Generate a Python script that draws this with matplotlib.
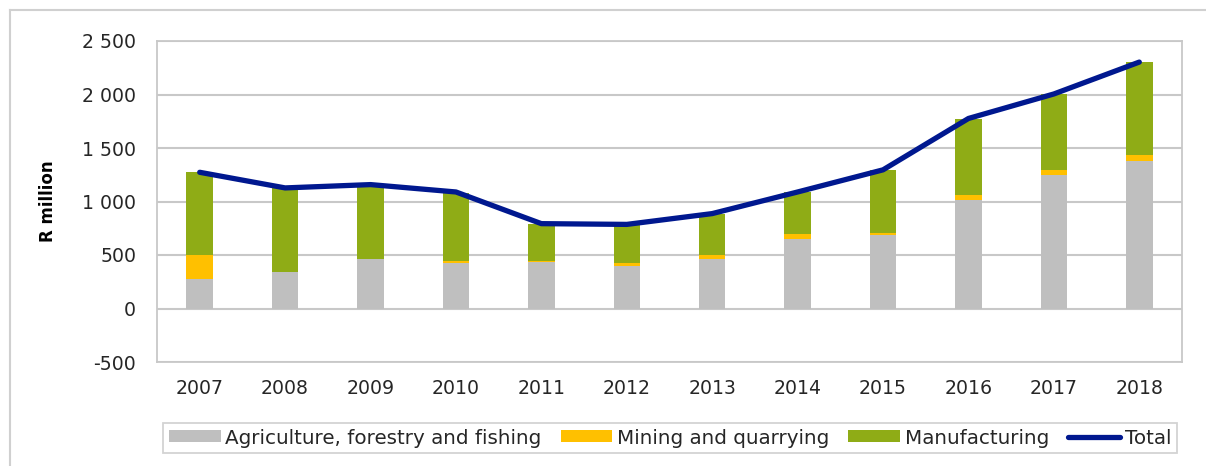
import matplotlib
matplotlib.use("Agg")
import matplotlib.pyplot as plt
from matplotlib.ticker import FuncFormatter, MultipleLocator
from matplotlib.lines import Line2D
import numpy as np

years = ["2007", "2008", "2009", "2010", "2011", "2012",
         "2013", "2014", "2015", "2016", "2017", "2018"]
agriculture = [278, 340, 459, 428, 434, 400, 465, 649, 687, 1014, 1245, 1379]
mining = [224, 0, 0, 15, 6, 21, 38, 44, 22, 44, 47, 51]
manufacturing = [771, 787, 699, 640, 353, 365, 384, 396, 583, 712, 713, 873]
total = [1273, 1127, 1158, 1089, 793, 786, 887, 1089, 1296, 1776, 2005, 2303]

series_labels = ["Agriculture, forestry and fishing", "Mining and quarrying",
                 "Manufacturing", "Total"]
colors = ["#bfbfbf", "#ffc000", "#8fac16", "#00188f"]

plt.rcParams['font.family'] = ['DejaVu Sans']

W, H = 1206, 466
fig = plt.figure(figsize=(W / 100, H / 100), dpi=100)
ax = fig.add_axes([157 / W, 1 - 362 / H, (1182 - 157) / W, (362 - 41) / H])

x = np.arange(len(years))
bw = 0.31
agri = np.array(agriculture)
mine = np.array(mining)
manu = np.array(manufacturing)
b1 = ax.bar(x, agri, bw, color=colors[0], label=series_labels[0], zorder=2)
b2 = ax.bar(x, mine, bw, bottom=agri, color=colors[1], label=series_labels[1], zorder=2)
b3 = ax.bar(x, manu, bw, bottom=agri + mine, color=colors[2], label=series_labels[2], zorder=2)
ln, = ax.plot(x, total, color=colors[3], lw=3.8, solid_capstyle='round',
              solid_joinstyle='round', label=series_labels[3], zorder=3)

ax.set_xlim(-0.5, len(years) - 0.5)
ax.set_ylim(-500, 2500)
ax.yaxis.set_major_locator(MultipleLocator(500))
ax.yaxis.set_major_formatter(FuncFormatter(lambda v, p: f"{int(v):,}".replace(",", " ")))
ax.set_xticks(x)
ax.set_xticklabels(years)
ax.tick_params(axis='both', length=0, labelsize=13.6, colors='#262626')
ax.tick_params(axis='y', pad=15)
ax.tick_params(axis='x', pad=12)
ax.grid(axis='y', color='#c8c8c8', lw=1.5, zorder=0)
ax.axhline(0, color='#a6a6a6', lw=1.2, zorder=1)
for s in ax.spines.values():
    s.set_color('#c8c8c8')
    s.set_linewidth(1.3)

ax.set_ylabel("R million", fontsize=12, fontweight='bold')
ax.yaxis.set_label_coords((57 - 157) / 1025, 0.5)

leg = fig.legend(handles=[b1, b2, b3, ln], labels=series_labels, ncol=4,
                 loc='center', bbox_to_anchor=(670 / W, 1 - 438 / H),
                 fontsize=14.3, frameon=True, fancybox=False, edgecolor='#c8c8c8',
                 handlelength=2.6, handleheight=0.55, handletextpad=0.25,
                 columnspacing=0.95, borderpad=0.3)
leg.get_frame().set_linewidth(1.3)
for t in leg.get_texts():
    t.set_color('#262626')

# outer chart frame
fig.add_artist(Line2D([10 / W, 10 / W], [0, 1 - 10 / H], transform=fig.transFigure,
                      color='#d0d0d0', lw=1.5))
fig.add_artist(Line2D([10 / W, 1], [1 - 10 / H, 1 - 10 / H], transform=fig.transFigure,
                      color='#d0d0d0', lw=1.5))

fig.savefig("out.png", dpi=100)
